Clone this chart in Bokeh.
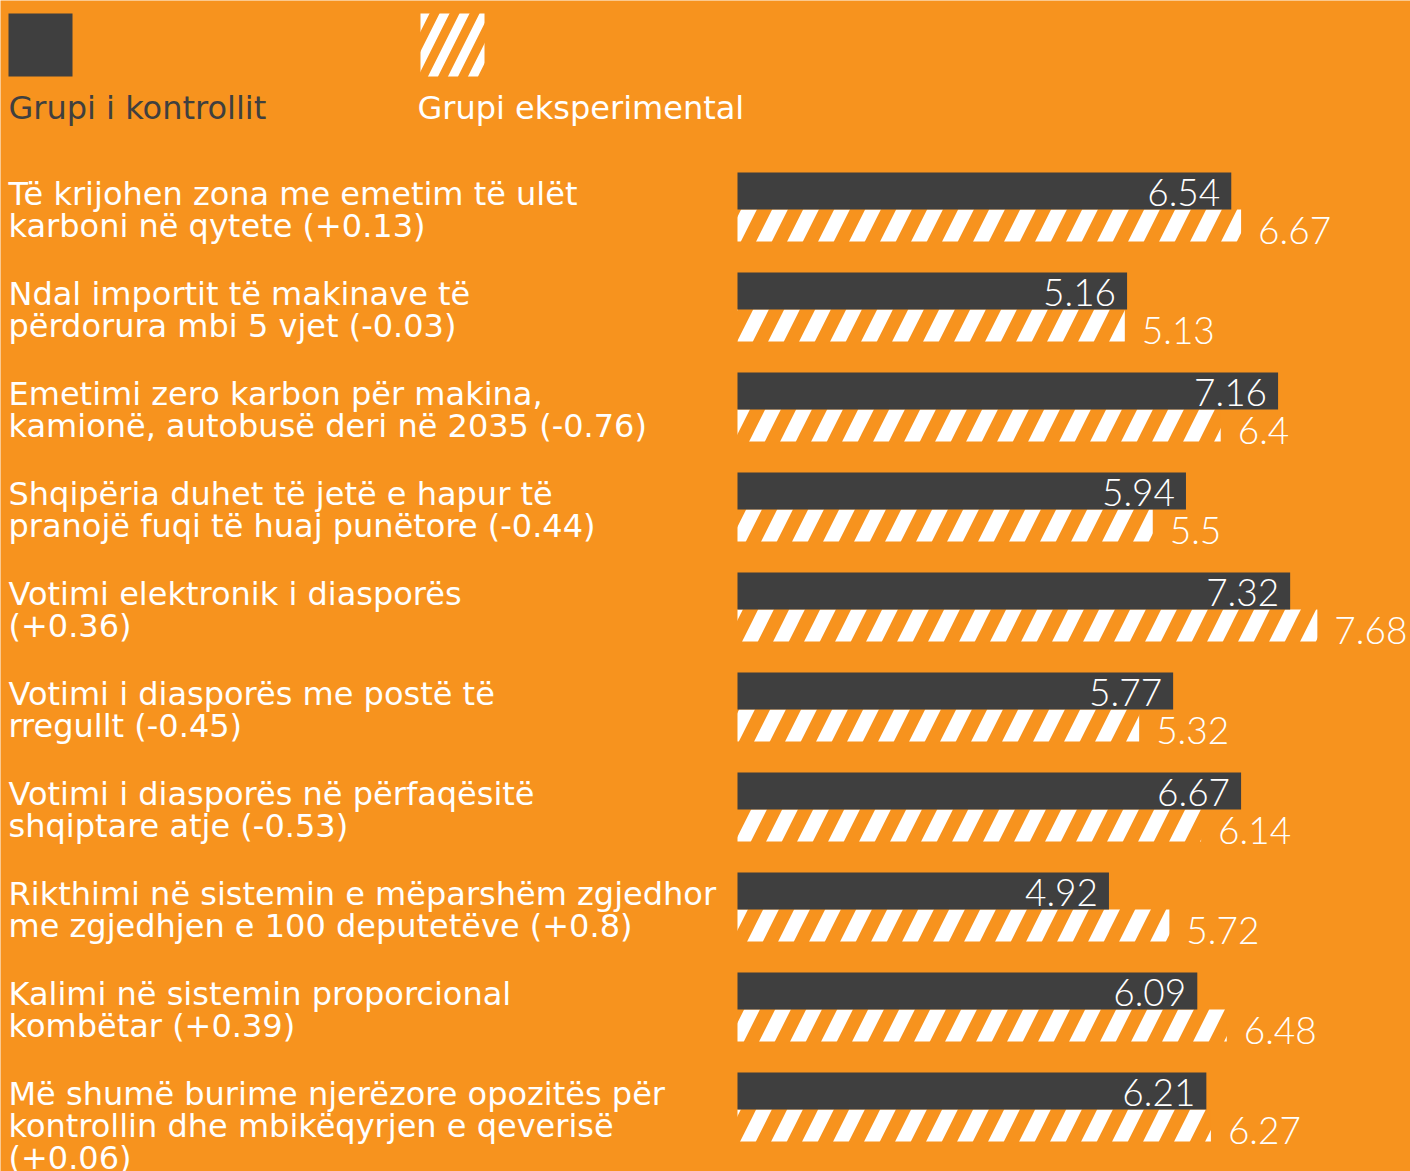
from bokeh.plotting import figure
from bokeh.models import Range1d, ColumnDataSource
from bokeh.core.properties import value
from bokeh.embed import file_html
from bokeh.resources import INLINE

labels = [
    "Të krijohen zona me emetim të ulët\nkarboni në qytete (+0.13)",
    "Ndal importit të makinave të\npërdorura mbi 5 vjet (-0.03)",
    "Emetimi zero karbon për makina,\nkamionë, autobusë deri në 2035 (-0.76)",
    "Shqipëria duhet të jetë e hapur të\npranojë fuqi të huaj punëtore (-0.44)",
    "Votimi elektronik i diasporës\n(+0.36)",
    "Votimi i diasporës me postë të\nrregullt (-0.45)",
    "Votimi i diasporës në përfaqësitë\nshqiptare atje (-0.53)",
    "Rikthimi në sistemin e mëparshëm zgjedhor\nme zgjedhjen e 100 deputetëve (+0.8)",
    "Kalimi në sistemin proporcional\nkombëtar  (+0.39)",
    "Më shumë burime njerëzore opozitës për\nkontrollin dhe mbikëqyrjen e qeverisë\n(+0.06)",
]
control = [6.54, 5.16, 7.16, 5.94, 7.32, 5.77, 6.67, 4.92, 6.09, 6.21]
experimental = [6.67, 5.13, 6.4, 5.5, 7.68, 5.32, 6.14, 5.72, 6.48, 6.27]
legend_names = ["Grupi i kontrollit", "Grupi eksperimental"]

ORANGE = "#F7931E"
DARK = "#3F3F3F"
WHITE = "#FFFFFF"

W, H = 1410, 1171
ZERO_PX = 737.0      # pixel of value 0 inside the figure
PX_PER_UNIT = 75.5

def px2x(px):
    return (px - ZERO_PX) / PX_PER_UNIT

p = figure(width=W, height=H, output_backend="svg", toolbar_location=None,
           x_range=Range1d(px2x(0), px2x(W)), y_range=Range1d(H, 0),
           min_border=0, outline_line_color=None,
           background_fill_color=ORANGE, border_fill_color=ORANGE)
p.axis.visible = False
p.grid.visible = False

n = len(labels)
row_top = [172 + 100 * i for i in range(n)]
dark_y = [t + 18.5 for t in row_top]
hatch_y = [t + 37 + 16 for t in row_top]
label_y = [t + 2 for t in row_top]

src = ColumnDataSource(dict(
    label=labels, ctrl=control, exp=experimental,
    dy=dark_y, hy=hatch_y, ly=label_y,
    ctxt=[f"{v:g}" for v in control], etxt=[f"{v:g}" for v in experimental],
    lx=[px2x(8)] * n,
))

# hatched (experimental) bars
p.hbar(y="hy", left=0, right="exp", height=32, source=src,
       fill_color=ORANGE, line_color=None,
       hatch_pattern="/", hatch_color=WHITE, hatch_scale=62, hatch_weight=14)
# dark (control) bars
p.hbar(y="dy", left=0, right="ctrl", height=37, source=src,
       fill_color=DARK, line_color=None)

vfont = value("Lato Light, Lato")
p.text(x="ctrl", y="dy", text="ctxt", source=src, x_offset=-11, y_offset=1,
       text_align="right", text_baseline="middle", text_color=WHITE,
       text_font=vfont, text_font_size="37px")
p.text(x="exp", y="hy", text="etxt", source=src, x_offset=17, y_offset=5,
       text_align="left", text_baseline="middle", text_color=WHITE,
       text_font=vfont, text_font_size="37px")

# category labels
p.text(x="lx", y="ly", text="label", source=src,
       text_align="left", text_baseline="top", text_color=WHITE,
       text_font=value("DejaVu Sans"), text_font_size="32px",
       text_line_height=0.85)

# legend
p.quad(left=[px2x(8)], right=[px2x(72)], top=[13], bottom=[76],
       fill_color=DARK, line_color=None)
p.quad(left=[px2x(420)], right=[px2x(484)], top=[13], bottom=[76],
       fill_color=ORANGE, line_color=None,
       hatch_pattern="/", hatch_color=WHITE, hatch_scale=40, hatch_weight=9)
p.text(x=[px2x(8), px2x(417)], y=[107, 107], text=legend_names,
       text_color=[DARK, WHITE], text_align="left", text_baseline="middle",
       text_font=value("DejaVu Sans"), text_font_size="32px")

open("out.html", "w").write(file_html(p, INLINE))
